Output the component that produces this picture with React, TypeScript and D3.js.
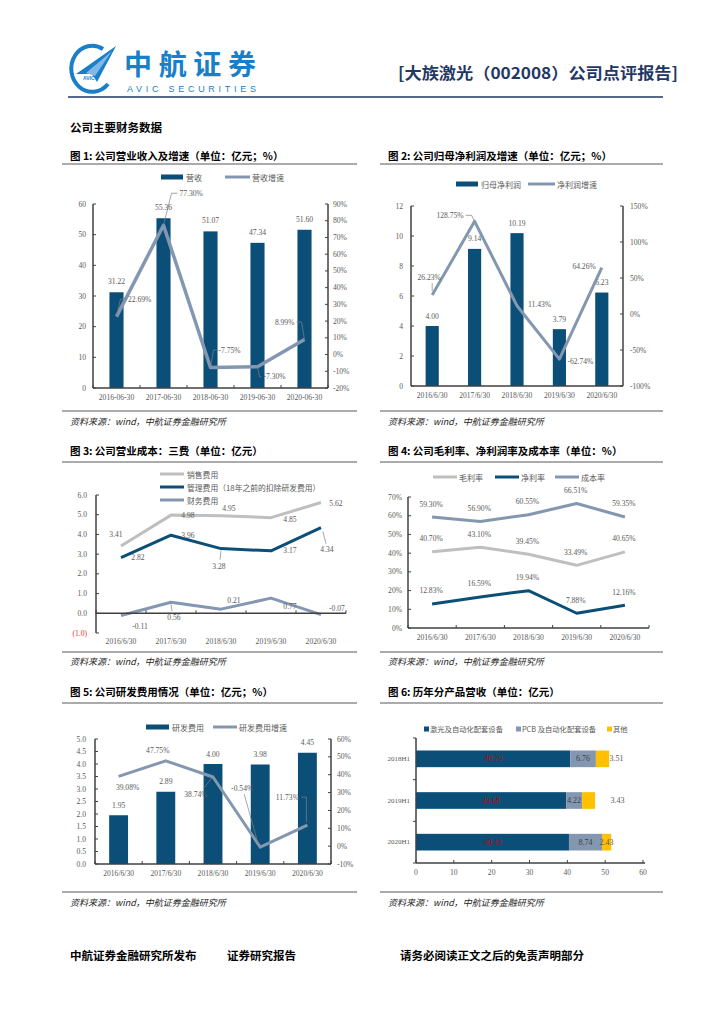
import React from "react";
import * as d3 from "d3";

// ---------------- data ----------------
const revCategories = ["2016-06-30", "2017-06-30", "2018-06-30", "2019-06-30", "2020-06-30"];
const revenue = [31.22, 55.36, 51.07, 47.34, 51.6];
const revenueGrowth = [22.69, 77.3, -7.75, -7.3, 8.99];
const revLeftTicks = [0, 10, 20, 30, 40, 50, 60];
const revRightTicks = [-20, -10, 0, 10, 20, 30, 40, 50, 60, 70, 80, 90];

const halfYears = ["2016/6/30", "2017/6/30", "2018/6/30", "2019/6/30", "2020/6/30"];
const netProfit = [4.0, 9.14, 10.19, 3.79, 6.23];
const netProfitGrowth = [26.23, 128.75, 11.43, -62.74, 64.26];
const profitLeftTicks = [0, 2, 4, 6, 8, 10, 12];
const profitRightTicks = [-100, -50, 0, 50, 100, 150];

const salesExpense = [3.41, 4.98, 4.95, 4.85, 5.62];
const adminExpense = [2.82, 3.96, 3.28, 3.17, 4.34];
const financeExpense = [-0.11, 0.56, 0.21, 0.77, -0.07];
const expenseTicks = [-1, 0, 1, 2, 3, 4, 5, 6];

const grossMargin = [40.7, 43.1, 39.45, 33.49, 40.65];
const netMargin = [12.83, 16.59, 19.94, 7.88, 12.16];
const costRatio = [59.3, 56.9, 60.55, 66.51, 59.35];
const marginTicks = [0, 10, 20, 30, 40, 50, 60, 70];

const rdExpense = [1.95, 2.89, 4.0, 3.98, 4.45];
const rdGrowth = [39.08, 47.75, 38.74, -0.54, 11.73];
const rdLeftTicks = [0, 0.5, 1, 1.5, 2, 2.5, 3, 3.5, 4, 4.5, 5];
const rdRightTicks = [-10, 0, 10, 20, 30, 40, 50, 60];

const segmentPeriods = ["2018H1", "2019H1", "2020H1"];
const laserEquipment = [40.79, 39.68, 40.43];
const pcbEquipment = [6.76, 4.22, 8.74];
const otherBusiness = [3.51, 3.43, 2.43];
const segmentTicks = [0, 10, 20, 30, 40, 50, 60];

// ---------------- style ----------------
const SERIF = "'Liberation Serif','DejaVu Serif',serif";
const CJK = "'Noto Sans CJK SC','Noto Sans',sans-serif";
const NAVY = "#0b4f79";
const STEEL = "#8497b0";
const LGRAY = "#bfbfbf";
const TXT = "#595959";
const AXIS = "#404040";
const BLUE = "#1a7fc9";
const NUM = 7.6;

type Lbl = { dx: number; dy: number; anchor?: "start" | "middle" | "end"; leader?: [number, number][] };

const Num = ({ x, y, t, anchor = "middle", fill = TXT, size = NUM }: any) => (
  <text x={x} y={y} fontFamily={SERIF} fontSize={size} fill={fill} textAnchor={anchor} dominantBaseline="central">
    {t}
  </text>
);

const Cjk = ({ x, y, t, size = 8, fill = TXT, anchor = "start", weight = "normal", style = "normal", tl }: any) => (
  <text
    x={x}
    y={y}
    fontFamily={CJK}
    fontSize={size}
    fill={fill}
    textAnchor={anchor}
    fontWeight={weight}
    fontStyle={style}
    dominantBaseline="central"
    textLength={tl}
    lengthAdjust={tl ? "spacingAndGlyphs" : undefined}
  >
    {t}
  </text>
);

function PointLabel({ px, py, t, l }: { px: number; py: number; t: string; l: Lbl }) {
  const lead = l.leader ? d3.line()(l.leader.map(([a, b]) => [px + a, py + b] as [number, number])) : null;
  return (
    <g>
      {lead && <path d={lead} fill="none" stroke="#7f7f7f" strokeWidth={0.7} />}
      <Num x={px + l.dx} y={py + l.dy} t={t} anchor={l.anchor ?? "middle"} />
    </g>
  );
}

function Frame({ x0, x1, title, titleY, ruleY, srcRuleY, srcY }: any) {
  return (
    <g>
      <Cjk x={x0 + 8} y={titleY} t={title} size={10.5} fill="#000" weight="bold" />
      <line x1={x0} x2={x1} y1={ruleY} y2={ruleY} stroke="#595959" strokeWidth={1.2} />
      <line x1={x0} x2={x1} y1={srcRuleY} y2={srcRuleY} stroke="#595959" strokeWidth={1.2} />
      <Cjk x={x0 + 8} y={srcY} t="资料来源：wind，中航证券金融研究所" size={9} fill="#262626" style="italic" />
    </g>
  );
}

// ---------- Chart 1 ----------
const c1GrowthLbl: Lbl[] = [
  { dx: 11.5, dy: -17.5, anchor: "start", leader: [[0, 0], [4, -17.5], [10, -17.5]] },
  { dx: 16, dy: -32, anchor: "start", leader: [[0, 0], [8, -32], [14, -32]] },
  { dx: 8, dy: -17.5, anchor: "start", leader: [[0, 0], [3, -17.5], [6, -17.5]] },
  { dx: 6, dy: 10, anchor: "start", leader: [[0, 0], [2, 10], [4, 10]] },
  { dx: -10, dy: -17.5, anchor: "end", leader: [[0, 0], [-3, -17.5], [-8, -17.5]] },
];

function Chart1() {
  const x = d3.scaleBand<string>().domain(revCategories).range([93, 328]).paddingInner(0.7).paddingOuter(0.35);
  const cx = (i: number) => (x(revCategories[i]) ?? 0) + x.bandwidth() / 2;
  const yL = d3.scaleLinear().domain([0, 60]).range([388, 204]);
  const yR = d3.scaleLinear().domain([-20, 90]).range([388, 204]);
  const line = d3.line<number>().x((_, i) => cx(i)).y((d) => yR(d));
  return (
    <g>
      <Frame x0={62} x1={357} title="图 1:  公司营业收入及增速（单位：亿元；%）" titleY={155} ruleY={164} srcRuleY={411} srcY={421} />
      <rect x={161} y={174.5} width={22} height={5} fill={NAVY} />
      <Cjk x={186} y={177} t="营收" />
      <line x1={225} x2={250} y1={177} y2={177} stroke={STEEL} strokeWidth={3} />
      <Cjk x={252} y={177} t="营收增速" />
      {revenue.map((v, i) => (
        <rect key={i} x={x(revCategories[i])} y={yL(v)} width={x.bandwidth()} height={yL(0) - yL(v)} fill={NAVY} />
      ))}
      {revenue.map((v, i) => (
        <Num key={i} x={cx(i)} y={yL(v) - 10.5} t={v.toFixed(2)} />
      ))}
      <path d={line(revenueGrowth) ?? ""} fill="none" stroke={STEEL} strokeWidth={3.5} strokeLinejoin="round" />
      {revenueGrowth.map((v, i) => (
        <PointLabel key={i} px={cx(i)} py={yR(v)} t={v.toFixed(2) + "%"} l={c1GrowthLbl[i]} />
      ))}
      <line x1={93} x2={93} y1={204} y2={388} stroke={AXIS} strokeWidth={1.5} />
      <line x1={328} x2={328} y1={204} y2={388} stroke={AXIS} strokeWidth={1.5} />
      <line x1={93} x2={328} y1={388} y2={388} stroke={AXIS} strokeWidth={1.5} />
      {revLeftTicks.map((t) => (
        <g key={t}>
          <line x1={93} x2={96} y1={yL(t)} y2={yL(t)} stroke={AXIS} />
          <Num x={86} y={yL(t)} t={String(t)} anchor="end" />
        </g>
      ))}
      {revRightTicks.map((t) => (
        <g key={t}>
          <line x1={325} x2={328} y1={yR(t)} y2={yR(t)} stroke={AXIS} />
          <Num x={333} y={yR(t)} t={t + "%"} anchor="start" />
        </g>
      ))}
      {d3.range(revCategories.length + 1).map((i) => (
        <line key={i} x1={93 + i * x.step()} x2={93 + i * x.step()} y1={385} y2={388} stroke={AXIS} />
      ))}
      {revCategories.map((c, i) => (
        <Num key={c} x={cx(i)} y={397} t={c} />
      ))}
    </g>
  );
}

// ---------- Chart 2 ----------
const c2GrowthLbl: Lbl[] = [
  { dx: -3, dy: -18, leader: [[0, -4], [0, -12]] },
  { dx: -11, dy: -6, anchor: "end", leader: [[0, 0], [-3, -6], [-9, -6]] },
  { dx: 11, dy: -1, anchor: "start" },
  { dx: 8, dy: 2, anchor: "start" },
  { dx: -6, dy: -1, anchor: "end" },
];

function Chart2() {
  const x = d3.scaleBand<string>().domain(halfYears).range([411, 623]).paddingInner(0.69).paddingOuter(0.345);
  const cx = (i: number) => (x(halfYears[i]) ?? 0) + x.bandwidth() / 2;
  const yL = d3.scaleLinear().domain([0, 12]).range([386, 206]);
  const yR = d3.scaleLinear().domain([-100, 150]).range([386, 206]);
  const line = d3.line<number>().x((_, i) => cx(i)).y((d) => yR(d));
  return (
    <g>
      <Frame x0={380} x1={663} title="图 2:  公司归母净利润及增速（单位：亿元；%）" titleY={155} ruleY={164} srcRuleY={411} srcY={421} />
      <rect x={456} y={181.5} width={22} height={5} fill={NAVY} />
      <Cjk x={481} y={184} t="归母净利润" />
      <line x1={528} x2={555} y1={184} y2={184} stroke={STEEL} strokeWidth={3} />
      <Cjk x={557} y={184} t="净利润增速" />
      {netProfit.map((v, i) => (
        <rect key={i} x={x(halfYears[i])} y={yL(v)} width={x.bandwidth()} height={yL(0) - yL(v)} fill={NAVY} />
      ))}
      {netProfit.map((v, i) => (
        <Num key={i} x={cx(i)} y={yL(v) - 10} t={v.toFixed(2)} />
      ))}
      <path d={line(netProfitGrowth) ?? ""} fill="none" stroke={STEEL} strokeWidth={3} strokeLinejoin="round" />
      {netProfitGrowth.map((v, i) => (
        <PointLabel key={i} px={cx(i)} py={yR(v)} t={v.toFixed(2) + "%"} l={c2GrowthLbl[i]} />
      ))}
      <line x1={411} x2={411} y1={206} y2={386} stroke={AXIS} strokeWidth={1.5} />
      <line x1={623} x2={623} y1={206} y2={386} stroke={AXIS} strokeWidth={1.5} />
      <line x1={411} x2={623} y1={386} y2={386} stroke={AXIS} strokeWidth={1.5} />
      {profitLeftTicks.map((t) => (
        <g key={t}>
          <line x1={411} x2={414} y1={yL(t)} y2={yL(t)} stroke={AXIS} />
          <Num x={403} y={yL(t)} t={String(t)} anchor="end" />
        </g>
      ))}
      {profitRightTicks.map((t) => (
        <g key={t}>
          <line x1={620} x2={623} y1={yR(t)} y2={yR(t)} stroke={AXIS} />
          <Num x={630} y={yR(t)} t={t + "%"} anchor="start" />
        </g>
      ))}
      {halfYears.map((c, i) => (
        <Num key={c} x={cx(i)} y={395} t={c} />
      ))}
    </g>
  );
}

// ---------- Chart 3 ----------
const c3SalesLbl: Lbl[] = [
  { dx: -5, dy: -12 },
  { dx: 17, dy: 0 },
  { dx: 8, dy: -7 },
  { dx: 19, dy: 2 },
  { dx: 15, dy: 1 },
];
const c3AdminLbl: Lbl[] = [
  { dx: 17, dy: 0 },
  { dx: 17, dy: 0 },
  { dx: -2, dy: 18, leader: [[0, 2], [-1, 11]] },
  { dx: 19, dy: 0 },
  { dx: 6, dy: 22, leader: [[2, 4], [5, 16]] },
];
const c3FinLbl: Lbl[] = [
  { dx: 19, dy: 11 },
  { dx: 3, dy: 15, leader: [[0, 2], [1, 9]] },
  { dx: 13, dy: -9 },
  { dx: 19, dy: 8 },
  { dx: 16, dy: -6 },
];

function Chart3() {
  const x = d3.scalePoint<string>().domain(halfYears).range([96, 346]).padding(0.5);
  const y = d3.scaleLinear().domain([-1, 6]).range([633, 495]);
  const line = d3.line<number>().x((_, i) => x(halfYears[i]) ?? 0).y((d) => y(d));
  const series = [
    { v: salesExpense, c: LGRAY, l: c3SalesLbl },
    { v: adminExpense, c: NAVY, l: c3AdminLbl },
    { v: financeExpense, c: STEEL, l: c3FinLbl },
  ];
  const fmt = (t: number) => (t < 0 ? `(${Math.abs(t).toFixed(1)})` : t.toFixed(1));
  return (
    <g>
      <Frame x0={62} x1={357} title="图 3:  公司营业成本：三费（单位：亿元）" titleY={450} ruleY={462} srcRuleY={652} srcY={661} />
      {[
        ["销售费用", LGRAY],
        ["管理费用（18年之前的扣除研发费用）", NAVY],
        ["财务费用", STEEL],
      ].map(([t, c], i) => (
        <g key={t}>
          <line x1={160} x2={184} y1={474 + i * 13} y2={474 + i * 13} stroke={c} strokeWidth={3} />
          <Cjk x={187} y={474 + i * 13} t={t} size={7.8} />
        </g>
      ))}
      {series.map((s, k) => (
        <path key={k} d={line(s.v) ?? ""} fill="none" stroke={s.c} strokeWidth={3} strokeLinejoin="round" />
      ))}
      {series.map((s, k) =>
        s.v.map((v, i) => <PointLabel key={k + "-" + i} px={x(halfYears[i]) ?? 0} py={y(v)} t={v.toFixed(2)} l={s.l[i]} />)
      )}
      <line x1={96} x2={96} y1={495} y2={633} stroke={AXIS} strokeWidth={1.5} />
      <line x1={96} x2={346} y1={y(0)} y2={y(0)} stroke={AXIS} strokeWidth={1.5} />
      {expenseTicks.map((t) => (
        <g key={t}>
          <line x1={96} x2={99} y1={y(t)} y2={y(t)} stroke={AXIS} />
          <Num x={87} y={y(t)} t={fmt(t)} anchor="end" fill={t < 0 ? "#e03030" : TXT} />
        </g>
      ))}
      {d3.range(halfYears.length + 1).map((i) => (
        <line key={i} x1={96 + i * x.step()} x2={96 + i * x.step()} y1={y(0) - 3} y2={y(0)} stroke={AXIS} />
      ))}
      {halfYears.map((c) => (
        <Num key={c} x={x(c)} y={641} t={c} />
      ))}
    </g>
  );
}

// ---------- Chart 4 ----------
function Chart4() {
  const x = d3.scalePoint<string>().domain(halfYears).range([408, 649]).padding(0.5);
  const y = d3.scaleLinear().domain([0, 70]).range([628, 497]);
  const line = d3.line<number>().x((_, i) => x(halfYears[i]) ?? 0).y((d) => y(d));
  const series = [
    { v: grossMargin, c: LGRAY, n: "毛利率" },
    { v: netMargin, c: NAVY, n: "净利率" },
    { v: costRatio, c: STEEL, n: "成本率" },
  ];
  const legX = [433, 495, 555];
  return (
    <g>
      <Frame x0={380} x1={663} title="图 4:  公司毛利率、净利润率及成本率（单位：%）" titleY={450} ruleY={462} srcRuleY={652} srcY={661} />
      {series.map((s, k) => (
        <g key={s.n}>
          <line x1={legX[k]} x2={legX[k] + 24} y1={477} y2={477} stroke={s.c} strokeWidth={3} />
          <Cjk x={legX[k] + 26} y={477} t={s.n} />
        </g>
      ))}
      {series.map((s, k) => (
        <path key={k} d={line(s.v) ?? ""} fill="none" stroke={s.c} strokeWidth={3} strokeLinejoin="round" />
      ))}
      {series.map((s, k) =>
        s.v.map((v, i) => <Num key={k + "-" + i} x={(x(halfYears[i]) ?? 0) - 1} y={y(v) - 13} t={v.toFixed(2) + "%"} />)
      )}
      <line x1={408} x2={408} y1={497} y2={628} stroke={AXIS} strokeWidth={1.5} />
      <line x1={408} x2={649} y1={628} y2={628} stroke={AXIS} strokeWidth={1.5} />
      {marginTicks.map((t) => (
        <g key={t}>
          <line x1={408} x2={411} y1={y(t)} y2={y(t)} stroke={AXIS} />
          <Num x={402} y={y(t)} t={t + "%"} anchor="end" />
        </g>
      ))}
      {d3.range(halfYears.length + 1).map((i) => (
        <line key={i} x1={408 + i * x.step()} x2={408 + i * x.step()} y1={625} y2={628} stroke={AXIS} />
      ))}
      {halfYears.map((c) => (
        <Num key={c} x={x(c)} y={637} t={c} />
      ))}
    </g>
  );
}

// ---------- Chart 5 ----------
const c5GrowthLbl: Lbl[] = [
  { dx: 9, dy: 11 },
  { dx: -8, dy: -10 },
  { dx: -17, dy: 18, leader: [[-1, 1], [-10, 12]] },
  { dx: -18, dy: -59, leader: [[-2, -3], [-16, -53]] },
  { dx: -20, dy: -28, leader: [[-1, -3], [-1, -28], [-6, -28]] },
];

function Chart5() {
  const x = d3.scaleBand<string>().domain(halfYears).range([95, 331]).paddingInner(0.6).paddingOuter(0.3);
  const cx = (i: number) => (x(halfYears[i]) ?? 0) + x.bandwidth() / 2;
  const yL = d3.scaleLinear().domain([0, 5]).range([864, 739]);
  const yR = d3.scaleLinear().domain([-10, 60]).range([864, 739]);
  const line = d3.line<number>().x((_, i) => cx(i)).y((d) => yR(d));
  return (
    <g>
      <Frame x0={62} x1={357} title="图 5:  公司研发费用情况（单位：亿元；%）" titleY={691} ruleY={703} srcRuleY={892} srcY={902} />
      <rect x={146} y={724.5} width={23} height={5} fill={NAVY} />
      <Cjk x={172} y={727} t="研发费用" />
      <line x1={213} x2={237} y1={727} y2={727} stroke={STEEL} strokeWidth={3} />
      <Cjk x={239} y={727} t="研发费用增速" />
      {rdExpense.map((v, i) => (
        <rect key={i} x={x(halfYears[i])} y={yL(v)} width={x.bandwidth()} height={yL(0) - yL(v)} fill={NAVY} />
      ))}
      {rdExpense.map((v, i) => (
        <Num key={i} x={cx(i)} y={yL(v) - 10} t={v.toFixed(2)} />
      ))}
      <path d={line(rdGrowth) ?? ""} fill="none" stroke={STEEL} strokeWidth={3} strokeLinejoin="round" />
      {rdGrowth.map((v, i) => (
        <PointLabel key={i} px={cx(i)} py={yR(v)} t={v.toFixed(2) + "%"} l={c5GrowthLbl[i]} />
      ))}
      <line x1={95} x2={95} y1={739} y2={864} stroke={AXIS} strokeWidth={1.5} />
      <line x1={331} x2={331} y1={739} y2={864} stroke={AXIS} strokeWidth={1.5} />
      <line x1={95} x2={331} y1={864} y2={864} stroke={AXIS} strokeWidth={1.5} />
      {rdLeftTicks.map((t) => (
        <g key={t}>
          <line x1={95} x2={98} y1={yL(t)} y2={yL(t)} stroke={AXIS} />
          <Num x={86} y={yL(t)} t={t.toFixed(1)} anchor="end" />
        </g>
      ))}
      {rdRightTicks.map((t) => (
        <g key={t}>
          <line x1={328} x2={331} y1={yR(t)} y2={yR(t)} stroke={AXIS} />
          <Num x={337} y={yR(t)} t={t + "%"} anchor="start" />
        </g>
      ))}
      {d3.range(halfYears.length + 1).map((i) => (
        <line key={i} x1={95 + i * x.step()} x2={95 + i * x.step()} y1={861} y2={864} stroke={AXIS} />
      ))}
      {halfYears.map((c, i) => (
        <Num key={c} x={cx(i)} y={873} t={c} />
      ))}
    </g>
  );
}

// ---------- Chart 6 ----------
const otherLabelDx = [14, 29, 0];

function Chart6() {
  const y = d3.scaleBand<string>().domain(segmentPeriods).range([738, 863]).paddingInner(0.6).paddingOuter(0.3);
  const x = d3.scaleLinear().domain([0, 60]).range([416, 643]);
  const stack = segmentPeriods.map((_, i) => {
    const a = laserEquipment[i];
    const b = pcbEquipment[i];
    const c = otherBusiness[i];
    return [
      [0, a],
      [a, a + b],
      [a + b, a + b + c],
    ];
  });
  const colors = [NAVY, STEEL, "#ffc000"];
  const labelFill = ["#c00000", "#404040", TXT];
  const vals = [laserEquipment, pcbEquipment, otherBusiness];
  const legend = [
    ["激光及自动化配套设备", 424],
    ["PCB 及自动化配套设备", 516],
    ["其他", 607],
  ] as [string, number][];
  return (
    <g>
      <Frame x0={380} x1={663} title="图 6:  历年分产品营收（单位：亿元）" titleY={691} ruleY={703} srcRuleY={892} srcY={902} />
      {legend.map(([t, lx], k) => (
        <g key={t}>
          <rect x={lx} y={726.5} width={5} height={5} fill={colors[k]} />
          <Cjk x={lx + 6} y={729} t={t} size={7.3} />
        </g>
      ))}
      {stack.map((segs, i) =>
        segs.map(([s0, s1], k) => (
          <rect
            key={i + "-" + k}
            x={x(s0)}
            y={y(segmentPeriods[i])}
            width={x(s1) - x(s0)}
            height={y.bandwidth()}
            fill={colors[k]}
          />
        ))
      )}
      {stack.map((segs, i) =>
        segs.map(([s0, s1], k) => (
          <Num
            key={"l" + i + "-" + k}
            x={x((s0 + s1) / 2) + (k === 2 ? otherLabelDx[i] : 0)}
            y={(y(segmentPeriods[i]) ?? 0) + y.bandwidth() / 2}
            t={vals[k][i].toFixed(2)}
            fill={labelFill[k]}
            size={8}
          />
        ))
      )}
      <line x1={416} x2={416} y1={738} y2={863} stroke={AXIS} strokeWidth={1.5} />
      <line x1={416} x2={645} y1={863} y2={863} stroke={AXIS} strokeWidth={1.5} />
      {d3.range(segmentPeriods.length + 1).map((i) => (
        <line key={i} x1={413} x2={416} y1={738 + i * y.step()} y2={738 + i * y.step()} stroke={AXIS} />
      ))}
      {segmentTicks.map((t) => (
        <g key={t}>
          <line x1={x(t)} x2={x(t)} y1={860} y2={863} stroke={AXIS} />
          <Num x={x(t)} y={872} t={String(t)} />
        </g>
      ))}
      {segmentPeriods.map((p) => (
        <Num key={p} x={410} y={(y(p) ?? 0) + y.bandwidth() / 2} t={p} anchor="end" size={7} />
      ))}
    </g>
  );
}

function Header() {
  return (
    <g>
      <path d="M 103 49 A 21 23 0 1 0 108 84" fill="none" stroke={BLUE} strokeWidth={4} />
      <path d="M 76 74 L 116 46 L 97 82 L 92 74 Z" fill={BLUE} />
      <path d="M 86 73 L 112 51 L 95 76 Z" fill="#7fb8e6" />
      <text x={83} y={80} fontFamily="'Liberation Sans',sans-serif" fontSize={5} fill={BLUE} fontWeight="bold">
        AVIC
      </text>
      <text
        x={124}
        y={75}
        fontFamily={CJK}
        fontSize={28}
        fontWeight="bold"
        fill={BLUE}
        textLength={132}
        lengthAdjust="spacing"
      >
        中航证券
      </text>
      <text
        x={127}
        y={92}
        fontFamily="'Liberation Sans',sans-serif"
        fontSize={9}
        fill={BLUE}
        textLength={129}
        lengthAdjust="spacing"
      >
        AVIC SECURITIES
      </text>
      <Cjk x={398} y={72} t="[大族激光（002008）公司点评报告]" size={16} weight="bold" fill="#1f3864" tl={280} />
      <line x1={68} x2={663} y1={97} y2={97} stroke="#1f3864" strokeWidth={1.3} />
      <Cjk x={70} y={127} t="公司主要财务数据" size={11.5} weight="bold" fill="#000" />
    </g>
  );
}

function Footer() {
  return (
    <g>
      <Cjk x={70} y={955} t="中航证券金融研究所发布" size={11.5} weight="bold" fill="#000" />
      <Cjk x={227} y={955} t="证券研究报告" size={11.5} weight="bold" fill="#000" />
      <Cjk x={400} y={955} t="请务必阅读正文之后的免责声明部分" size={11.5} weight="bold" fill="#000" />
    </g>
  );
}

export default function App() {
  return (
    <svg
      width={724}
      height={1024}
      viewBox="0 0 724 1024"
      style={{ position: "absolute", left: 0, top: 0, background: "#fff" }}
    >
      <rect width={724} height={1024} fill="#fff" />
      <Header />
      <Chart1 />
      <Chart2 />
      <Chart3 />
      <Chart4 />
      <Chart5 />
      <Chart6 />
      <Footer />
    </svg>
  );
}
